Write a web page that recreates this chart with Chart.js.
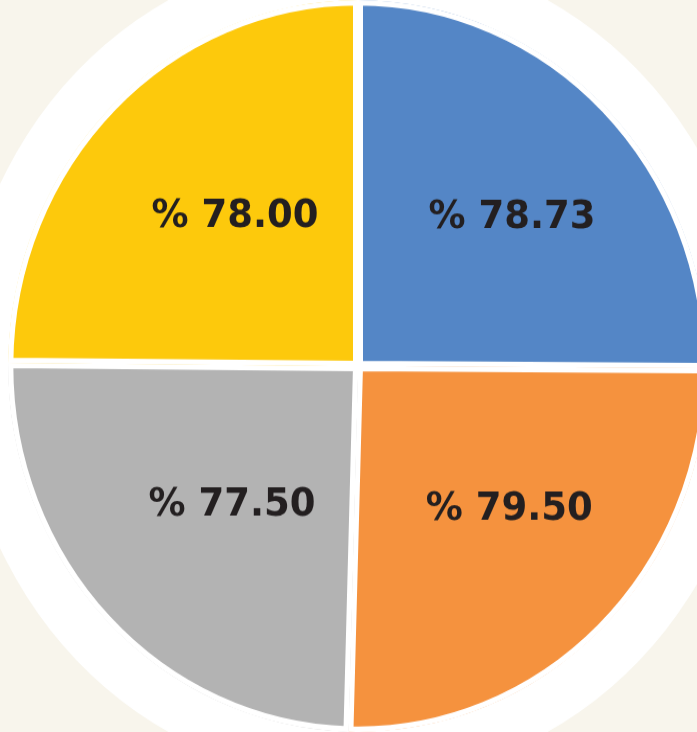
<!DOCTYPE html>
<html>
<head>
<meta charset="utf-8">
<script src="https://cdn.jsdelivr.net/npm/chart.js@4.4.1/dist/chart.umd.min.js"></script>
<style>
  html, body { margin: 0; padding: 0; background: #f8f5ec; overflow: hidden; }
  #pieChart { display: block; }
</style>
</head>
<body>
<canvas id="pieChart" width="697" height="700" style="width:697px;height:732px"></canvas>
<script>
// slices clockwise from 12 o'clock: blue, orange, gray, yellow
const values = [78.73, 79.50, 77.50, 78.00];
const labels = values.map(v => '% ' + v.toFixed(2));
const colors = ['#5486c6', '#f5923e', '#b3b3b3', '#fdc90c'];

// cream page with a white disc behind the pie
const backdrop = {
    id: 'backdrop',
    beforeDraw(chart) {
        const c = chart.ctx;
        const arc = chart.getDatasetMeta(0).data[0];
        c.save();
        c.fillStyle = '#f8f5ec';
        c.fillRect(0, 0, chart.width, chart.height);
        c.fillStyle = '#ffffff';
        c.beginPath();
        c.arc(arc.x, arc.y, 398, 0, Math.PI * 2);
        c.fill();
        c.restore();
    }
};

// value text inside each slice
const sliceLabels = {
    id: 'sliceLabels',
    afterDatasetsDraw(chart) {
        const c = chart.ctx;
        c.save();
        c.font = 'bold 37px "DejaVu Sans"';
        c.fillStyle = '#231f20';
        c.textAlign = 'center';
        c.textBaseline = 'middle';
        chart.getDatasetMeta(0).data.forEach((arc, i) => {
            const mid = (arc.startAngle + arc.endAngle) / 2;
            const r = arc.outerRadius * 0.56;
            c.fillText(chart.data.labels[i], arc.x + Math.cos(mid) * r + 15, arc.y + Math.sin(mid) * r - 3);
        });
        c.restore();
    }
};

new Chart(document.getElementById('pieChart'), {
    type: 'pie',
    data: {
        labels: labels,
        datasets: [{
            data: values,
            backgroundColor: colors,
            borderColor: '#ffffff',
            borderWidth: 5,
            borderAlign: 'inner'
        }]
    },
    options: {
        responsive: false,
        animation: false,
        radius: 350,
        layout: { padding: { left: 19 } },
        plugins: {
            legend: { display: false },
            tooltip: { enabled: false }
        }
    },
    plugins: [backdrop, sliceLabels]
});
</script>
</body>
</html>
